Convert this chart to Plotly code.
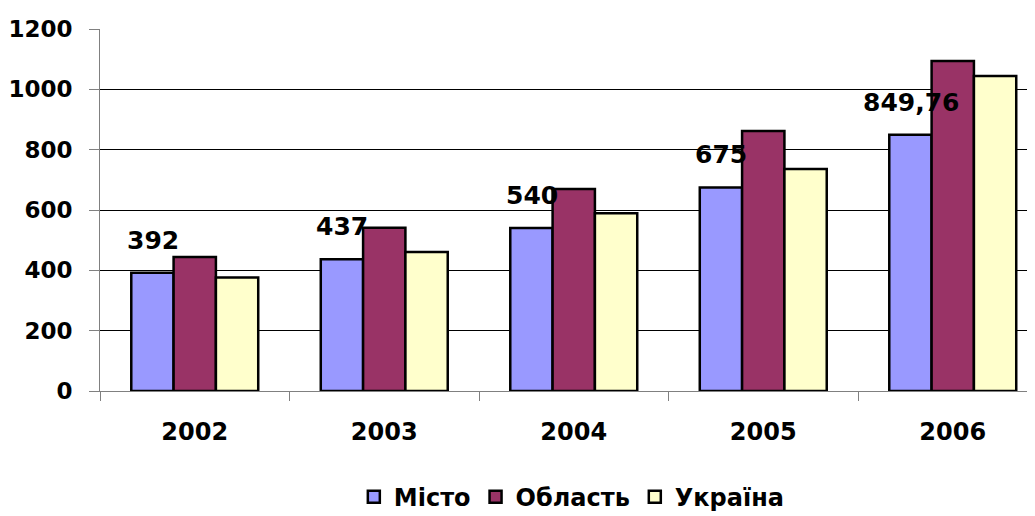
import plotly.graph_objects as go

years = ['2002', '2003', '2004', '2005', '2006']
misto = [392, 437, 540, 675, 849.76]
oblast = [444, 541, 670, 862, 1094]
ukraina = [376, 461, 589, 736, 1044]
misto_labels = ['392', '437', '540', '675', '849,76']

FONT = 'DejaVu Sans'
outline = dict(color='black', width=2.5)

fig = go.Figure()
fig.add_trace(go.Bar(name='Місто', x=years, y=misto,
                     marker=dict(color='#9999FF', line=outline)))
fig.add_trace(go.Bar(name='Область', x=years, y=oblast,
                     marker=dict(color='#993366', line=outline)))
fig.add_trace(go.Bar(name='Україна', x=years, y=ukraina,
                     marker=dict(color='#FFFFCC', line=outline)))

# value labels over the first series only
for i, (val, lab) in enumerate(zip(misto, misto_labels)):
    fig.add_annotation(x=i, y=val, xref='x', yref='y', text=lab, showarrow=False,
                       xshift=-42, yshift=16, yanchor='bottom',
                       font=dict(family=FONT, size=25, color='black', weight='bold'))

# page body has an 8px margin, so the figure sits 8px in from the top-left
fig.update_layout(
    width=1027, height=508,
    margin=dict(l=92, r=0, t=21, b=125, autoexpand=False),
    plot_bgcolor='white', paper_bgcolor='white',
    barmode='group', bargap=0.33, bargroupgap=0,
    font=dict(family=FONT, size=24, color='black', weight='bold'),
    showlegend=True,
    legend=dict(orientation='h', xref='container', x=0.549, xanchor='center',
                yref='container', y=0.037, yanchor='middle',
                font=dict(family=FONT, size=24, weight='bold')),
)
fig.update_xaxes(type='category', range=[-0.5, 4.434], tickson='boundaries', ticks='outside',
                 ticklen=9, tickcolor='#808080', showline=True, linecolor='#808080',
                 linewidth=1, ticklabelstandoff=19, showgrid=False, automargin=False)
fig.update_yaxes(range=[0, 1200], tickvals=[0, 200, 400, 600, 800, 1000, 1200],
                 ticks='outside', ticklen=10, tickcolor='#808080', showline=True,
                 linecolor='#808080', linewidth=1, showgrid=True, gridcolor='black',
                 gridwidth=1, zeroline=False, ticklabelstandoff=12, automargin=False,
                 tickfont=dict(size=23))

fig.write_html("out.html")
